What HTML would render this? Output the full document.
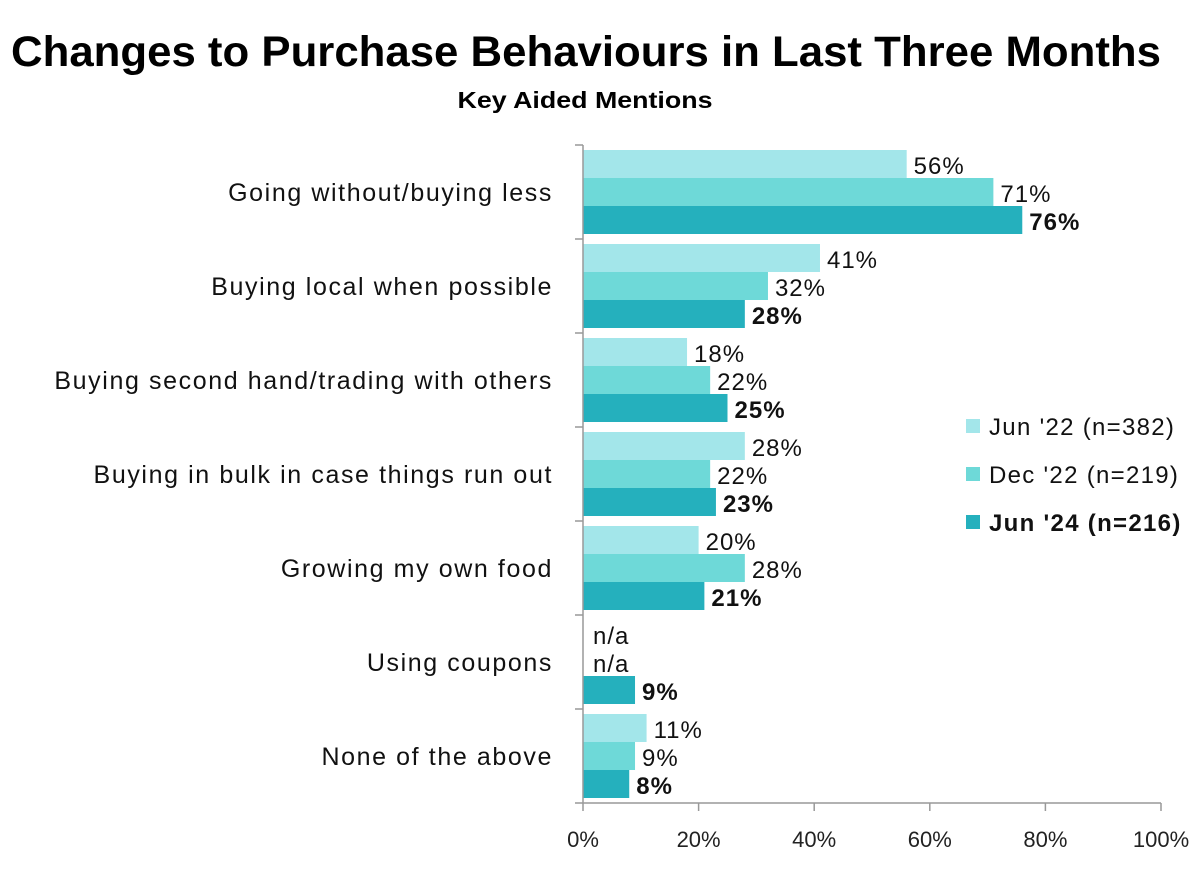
<!DOCTYPE html>
<html><head><meta charset="utf-8"><style>
body{margin:0;background:#fff;width:1200px;height:874px;overflow:hidden;font-family:"Liberation Sans",sans-serif}
</style></head><body>
<svg width="1200" height="874" font-family="Liberation Sans, sans-serif">
<text x="586" y="66" text-anchor="middle" font-size="43" font-weight="bold" fill="#000" textLength="1150" lengthAdjust="spacingAndGlyphs">Changes to Purchase Behaviours in Last Three Months</text>
<text x="585" y="108" text-anchor="middle" font-size="23" font-weight="bold" fill="#000" textLength="255" lengthAdjust="spacingAndGlyphs">Key Aided Mentions</text>
<g id="plot"></g>
<g id="legend"></g>
</svg>
<script>
const categories=["Going without/buying less","Buying local when possible","Buying second hand/trading with others","Buying in bulk in case things run out","Growing my own food","Using coupons","None of the above"];
const jun22=[56,41,18,28,20,null,11];
const dec22=[71,32,22,22,28,null,9];
const jun24=[76,28,25,23,21,9,8];
const seriesNames=["Jun '22 (n=382)","Dec '22 (n=219)","Jun '24 (n=216)"];
const ticks=[0,20,40,60,80,100];
const series=[jun22,dec22,jun24];
const colors=["#a3e6ea","#6ed9d8","#25b0bd"];
const NS="http://www.w3.org/2000/svg";
const x0=583,x1=1161,yTop=145,band=94,barH=28;
const xs=v=>x0+(x1-x0)*v/100;
const ys=i=>yTop+i*band;
const plot=document.getElementById('plot');
function mk(tag,attrs,parent){const e=document.createElementNS(NS,tag);for(const k in attrs)e.setAttribute(k,attrs[k]);parent.appendChild(e);return e;}
categories.forEach((c,i)=>{
  const t=mk('text',{x:553,y:ys(i)+band/2+9,'text-anchor':'end','font-size':25,'letter-spacing':1.6,fill:'#111'},plot);
  t.textContent=c;
  
  
  series.forEach((s,j)=>{
    const y=ys(i)+5+j*barH;
    const v=s[i];
    if(v!==null){
      const r=mk('rect',{x:x0,y:y,width:xs(v)-x0,height:barH,fill:colors[j]},plot);
      
      
    }
    const lbl=mk('text',{x:(v===null?x0+10:xs(v)+7),y:y+24,'font-size':24,'letter-spacing':1,fill:'#111','font-weight':j===2?'bold':'normal'},plot);
    lbl.textContent=v===null?'n/a':v+'%';
    
    
  });
});
const ax=mk('line',{x1:x0,y1:yTop,x2:x0,y2:ys(categories.length),stroke:'#999','stroke-width':1.5},plot);


for(let i=0;i<=categories.length;i++){
  const tk=mk('line',{x1:x0-8,y1:ys(i),x2:x0,y2:ys(i),stroke:'#999','stroke-width':1.5},plot);
  
  
}
const yb=ys(categories.length);
const xa=mk('line',{x1:x0,y1:yb,x2:x1,y2:yb,stroke:'#999','stroke-width':1.5},plot);


ticks.forEach(t=>{
  const l=mk('line',{x1:xs(t),y1:yb,x2:xs(t),y2:yb+8,stroke:'#999','stroke-width':1.5},plot);
  
  
  const tx=mk('text',{x:xs(t),y:yb+44,'text-anchor':'middle','font-size':22,fill:'#222'},plot);
  tx.textContent=t+'%';
  
  
});
const lg=document.getElementById('legend');
seriesNames.forEach((n,j)=>{
  const y=427+j*48;
  const r=mk('rect',{x:966,y:y-8,width:14,height:14,fill:colors[j]},lg);
  
  
  const t=mk('text',{x:989,y:y+8,'font-size':24,'letter-spacing':1.3,fill:'#111','font-weight':j===2?'bold':'normal'},lg);
  t.textContent=n;
  
  
});
</script>
</body></html>
